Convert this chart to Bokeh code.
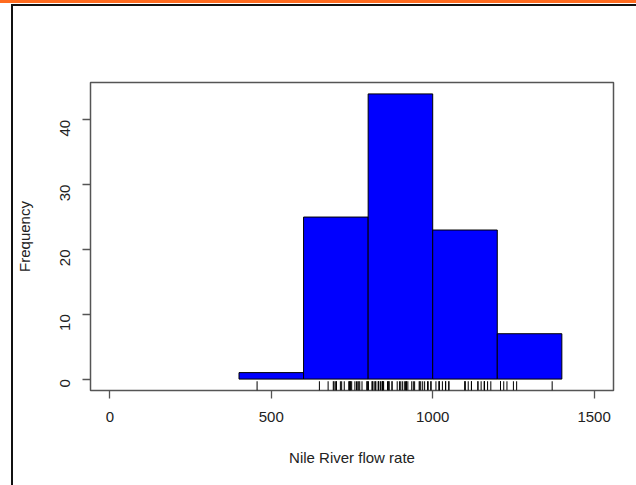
import math
from bokeh.plotting import figure
from bokeh.models import FixedTicker, ColumnDataSource, Range1d
from bokeh.embed import file_html
from bokeh.resources import INLINE

# Histogram of the Nile river flow (bins of width 200)
bin_left = [400, 600, 800, 1000, 1200]
bin_right = [600, 800, 1000, 1200, 1400]
counts = [1, 25, 44, 23, 7]

# Individual observations (rug)
nile = [1120, 1160, 963, 1210, 1160, 1160, 813, 1230, 1370, 1140,
        995, 935, 1110, 994, 1020, 960, 1180, 799, 958, 1140,
        1100, 1210, 1150, 1250, 1260, 1220, 1030, 1100, 774, 840,
        874, 694, 940, 833, 701, 916, 692, 1020, 1050, 969,
        831, 726, 456, 824, 702, 1120, 1100, 832, 764, 821,
        768, 845, 864, 862, 698, 845, 744, 796, 1040, 759,
        781, 865, 845, 944, 984, 897, 822, 1010, 771, 676,
        649, 846, 812, 742, 801, 1040, 860, 874, 848, 890,
        744, 749, 838, 1050, 918, 986, 797, 923, 975, 815,
        1020, 906, 901, 1170, 912, 746, 919, 718, 714, 740]

x_ticks = [0, 500, 1000, 1500]
y_ticks = [0, 10, 20, 30, 40]
x_label = "Nile River flow rate"
y_label = "Frequency"

FONT = "Liberation Sans"
TXT = "#222222"
LINE = "#555555"

xlim = (0, 1500)
ylim = (0, 44)
xpad = 0.04 * (xlim[1] - xlim[0])
ypad = 0.04 * (ylim[1] - ylim[0])
x_range = Range1d(xlim[0] - xpad, xlim[1] + xpad)
y_range = Range1d(ylim[0] - ypad, ylim[1] + ypad)

page_bg = ("linear-gradient(#FF6B1F,#FF6B1F) 0px 0px / 100% 3px no-repeat, "
           "linear-gradient(#111111,#111111) 11px 4px / 100% 2px no-repeat, "
           "linear-gradient(#111111,#111111) 11px 4px / 2px 100% no-repeat, "
           "#ffffff")

p = figure(width=636, height=485, x_range=x_range, y_range=y_range,
           output_backend="svg", toolbar_location=None,
           min_border_left=90, min_border_right=23,
           min_border_top=82, min_border_bottom=95,
           styles={"background": page_bg})
p.background_fill_color = "white"
p.border_fill_color = None
p.grid.visible = False
p.outline_line_color = LINE
p.outline_line_width = 1.5

src = ColumnDataSource(dict(left=bin_left, right=bin_right, top=counts,
                            bottom=[0] * len(counts)))
p.quad(left="left", right="right", top="top", bottom="bottom", source=src,
       fill_color="#0000FF", line_color="black", line_width=1)

# rug
rug_bottom = y_range.start
rug_top = y_range.start + 0.03 * (y_range.end - y_range.start)
p.segment(x0=nile, x1=nile, y0=[rug_bottom] * len(nile), y1=[rug_top] * len(nile),
          line_color="black", line_width=1)

for ax in (p.xaxis[0], p.yaxis[0]):
    ax.axis_line_color = None
    ax.major_tick_line_color = LINE
    ax.major_tick_line_width = 1.3
    ax.major_tick_out = 8
    ax.major_tick_in = 0
    ax.minor_tick_line_color = None
    ax.major_label_text_font = FONT
    ax.major_label_text_font_size = "15px"
    ax.major_label_text_color = TXT
    ax.axis_label_text_font = FONT
    ax.axis_label_text_font_size = "15px"
    ax.axis_label_text_color = TXT
    ax.axis_label_text_font_style = "normal"

p.xaxis.ticker = FixedTicker(ticks=x_ticks)
p.yaxis.ticker = FixedTicker(ticks=y_ticks)
p.xaxis.axis_label = x_label
p.yaxis.axis_label = y_label
p.xaxis.major_label_standoff = 13
p.xaxis.axis_label_standoff = 24
p.yaxis.major_label_orientation = math.pi / 2
p.yaxis.major_label_standoff = 17
p.yaxis.axis_label_standoff = 20

open("out.html", "w").write(file_html(p, INLINE))
